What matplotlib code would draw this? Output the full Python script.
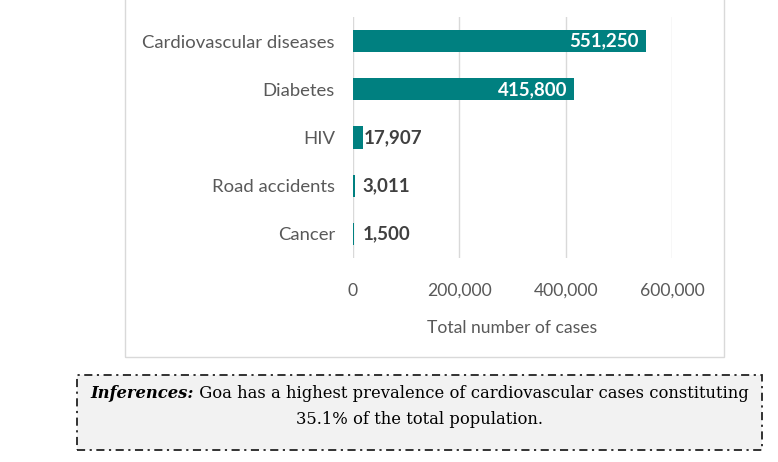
import matplotlib
matplotlib.use("Agg")
import matplotlib.pyplot as plt
from matplotlib.patches import Rectangle

## Data

categories = ["Cardiovascular diseases", "Diabetes", "HIV", "Road accidents", "Cancer"]
cases = [551250, 415800, 17907, 3011, 1500]
xticks = [0, 200000, 400000, 600000]
xlabel = "Total number of cases"
note_bold = "Inferences:"
note_line1 = " Goa has a highest prevalence of cardiovascular cases constituting"
note_line2 = "35.1% of the total population."

## End of Data

bar_color = "#008080"
tick_color = "#595959"
sans = "Lato"
serif = "DejaVu Serif"

fig = plt.figure(figsize=(7.78, 4.62), dpi=100)

# outer chart frame (top runs off the picture)
fig.patches.append(Rectangle((125 / 778, 1 - 357 / 462), (724 - 125) / 778, 0.9,
                             transform=fig.transFigure, fill=False,
                             edgecolor="#d9d9d9", linewidth=1.0))

ax = fig.add_axes([353 / 778, 1 - 258 / 462, (672 - 353) / 778, (258 - 17) / 462])

ypos = list(range(len(categories)))
bars = ax.barh(ypos, cases, height=0.46, color=bar_color, zorder=3)
ax.set_ylim(len(categories) - 0.5, -0.5)
ax.set_xlim(0, 600000)

ax.set_yticks(ypos)
ax.set_yticklabels(categories, fontsize=13.3, color=tick_color, family=sans)
ax.set_xticks(xticks)
ax.set_xticklabels(["{:,}".format(v) for v in xticks], fontsize=12.6, color=tick_color, family=sans)
ax.tick_params(axis="both", length=0)
ax.tick_params(axis="y", pad=13)
ax.tick_params(axis="x", pad=18)
ax.set_xlabel(xlabel, fontsize=12.6, color=tick_color, family=sans, labelpad=15)

for s in ax.spines.values():
    s.set_visible(False)
ax.grid(axis="x", color="#d9d9d9", linewidth=1.0, zorder=0)

# value labels: inside end for long bars, outside for short ones
for y, v in zip(ypos, cases):
    label = "{:,}".format(v)
    if v > 100000:
        ax.annotate(label, (v, y), xytext=(-5, 0), textcoords="offset points",
                    ha="right", va="center", color="white",
                    fontsize=13.5, fontweight="bold", family=sans, zorder=4)
    else:
        ax.annotate(label, (max(v, 15500), y), xytext=(1, 0), textcoords="offset points",
                    ha="left", va="center", color="#404040",
                    fontsize=13.5, fontweight="bold", family=sans, zorder=4)

# inference box
bx, by = 77 / 778, 1 - 450 / 462
bw, bh = (762 - 77) / 778, (450 - 375) / 462
fig.patches.append(Rectangle((bx, by), bw, bh, transform=fig.transFigure,
                             facecolor="#f2f2f2", edgecolor="#222222",
                             linewidth=1.3, linestyle=(0, (4.5, 2.5, 1.2, 2.5))))

renderer = fig.canvas.get_renderer()
cx = bx + bw / 2
y1 = 1 - 394 / 462
y2 = 1 - 419 / 462
t1 = fig.text(0, y1, note_bold, fontsize=11.8, fontweight="bold", style="italic",
              family=serif, va="center", ha="left", color="black")
t2 = fig.text(0, y1, note_line1, fontsize=11.8, family=serif, va="center", ha="left",
              color="black")
w1 = t1.get_window_extent(renderer).width / fig.bbox.width
w2 = t2.get_window_extent(renderer).width / fig.bbox.width
start = cx - (w1 + w2) / 2
t1.set_x(start)
t2.set_x(start + w1)
fig.text(cx, y2, note_line2, fontsize=11.8, family=serif, va="center", ha="center",
         color="black")

fig.savefig("out.png", dpi=100)
